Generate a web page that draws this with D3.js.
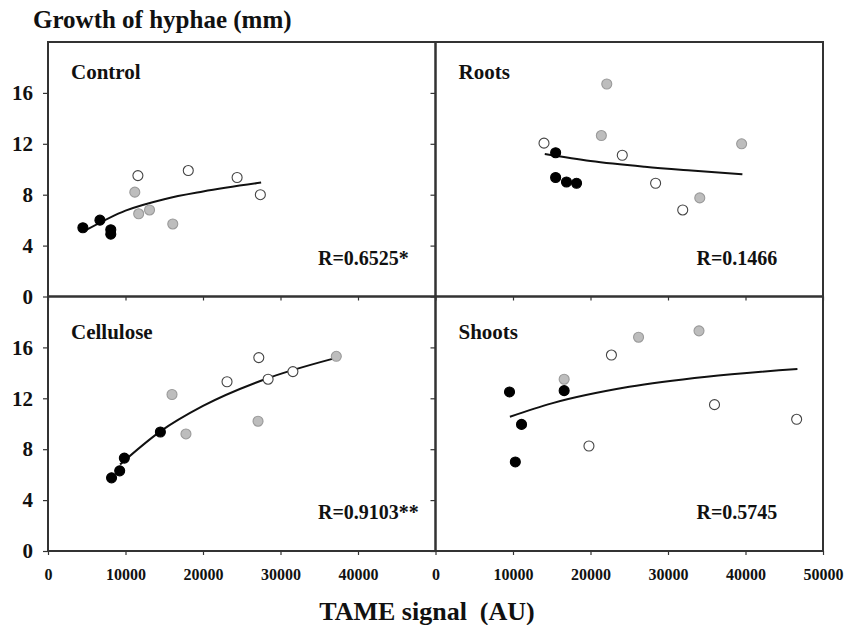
<!DOCTYPE html>
<html>
<head>
<meta charset="utf-8">
<script src="https://cdn.jsdelivr.net/npm/d3@7"></script>
<style>
  body { margin: 0; background: #fff; }
  svg text { font-family: "Liberation Serif", "Times New Roman", serif; font-weight: bold; fill: #111; }
  .axis path.domain { display: none; }
  .axis line { stroke: #333; stroke-width: 1.2; }
</style>
</head>
<body>
<svg id="chart" width="845" height="625"></svg>
<script>
// panel names and correlation labels
const panelNames = ['Control', 'Roots', 'Cellulose', 'Shoots'];
const rLabels = ['R=0.6525*', 'R=0.1466', 'R=0.9103**', 'R=0.5745'];

// tick values
const yTicks = [0, 4, 8, 12, 16];
const xTicksLeft = [0, 10000, 20000, 30000, 40000];
const xTicksRight = [0, 10000, 20000, 30000, 40000, 50000];

// points: [TAME signal, growth, group]  k = black, g = grey, w = open
const controlPts = [
  [4500, 5.4, 'k'], [6700, 6.0, 'k'], [8100, 5.25, 'k'], [8100, 4.9, 'k'],
  [11200, 8.2, 'g'], [11700, 6.5, 'g'], [13100, 6.8, 'g'], [16100, 5.7, 'g'],
  [11600, 9.5, 'w'], [18100, 9.9, 'w'], [24400, 9.35, 'w'], [27400, 8.0, 'w']
];
const rootsPts = [
  [15500, 11.3, 'k'], [15500, 9.35, 'k'], [16900, 9.0, 'k'], [18200, 8.9, 'k'],
  [22100, 16.7, 'g'], [21400, 12.65, 'g'], [34100, 7.75, 'g'], [39500, 12.0, 'g'],
  [14000, 12.05, 'w'], [24100, 11.1, 'w'], [28400, 8.9, 'w'], [31900, 6.8, 'w']
];
const cellulosePts = [
  [8200, 5.75, 'k'], [9250, 6.3, 'k'], [9850, 7.3, 'k'], [14500, 9.35, 'k'],
  [16000, 12.3, 'g'], [17800, 9.2, 'g'], [27100, 10.2, 'g'], [37200, 15.3, 'g'],
  [23100, 13.3, 'w'], [27200, 15.2, 'w'], [28400, 13.5, 'w'], [31600, 14.1, 'w']
];
const shootsPts = [
  [9550, 12.5, 'k'], [16600, 12.6, 'k'], [11100, 9.95, 'k'], [10300, 7.0, 'k'],
  [16600, 13.5, 'g'], [26200, 16.8, 'g'], [34000, 17.3, 'g'],
  [22700, 15.4, 'w'], [19800, 8.25, 'w'], [36000, 11.5, 'w'], [46600, 10.35, 'w']
];

// trend curves
const controlFit = [[5000, 5.25], [10000, 6.75], [15000, 7.65], [20000, 8.25], [27500, 8.95]];
const rootsFit = [[14100, 11.2], [20000, 10.65], [27000, 10.2], [33000, 9.9], [39600, 9.6]];
const celluloseFit = [[9300, 6.8], [14500, 9.4], [20000, 11.4], [28000, 13.5], [36700, 15.1]];
const shootsFit = [[9600, 10.55], [15000, 11.6], [25000, 12.9], [35000, 13.7], [46700, 14.3]];

const allPts = [controlPts, rootsPts, cellulosePts, shootsPts];
const allFits = [controlFit, rootsFit, celluloseFit, shootsFit];

const svg = d3.select('#chart');
const plot = {left: 48, top: 42, width: 387.5, height: 254.5};

const fillOf = {k: '#000', g: '#bdbdbd', w: '#fff'};
const strokeOf = {k: '#000', g: '#9a9a9a', w: '#444'};

panelNames.forEach((name, i) => {
  const col = i % 2, row = Math.floor(i / 2);
  const x0 = plot.left + col * plot.width;
  const y0 = plot.top + row * plot.height;

  const x = d3.scaleLinear([0, 50000], [x0, x0 + plot.width]);
  const y = d3.scaleLinear([0, 20], [y0 + plot.height, y0]);

  const g = svg.append('g').attr('class', 'panel');

  // y axis
  const yAxis = d3.axisLeft(y).tickValues(yTicks).tickSize(5).tickSizeOuter(0).tickPadding(10);
  if (col === 1) yAxis.tickFormat('');
  const ya = g.append('g').attr('class', 'axis').attr('transform', `translate(${x0},0)`).call(yAxis);
  ya.selectAll('text').style('font-size', '21px');

  // x axis
  const xAxis = d3.axisBottom(x).tickValues(col === 0 ? xTicksLeft : xTicksRight)
    .tickSize(4).tickSizeOuter(0).tickPadding(14)
    .tickFormat(row === 0 ? '' : d3.format('d'));
  const xa = g.append('g').attr('class', 'axis').attr('transform', `translate(0,${y0 + plot.height})`).call(xAxis);
  xa.selectAll('text').style('font-size', '16px');

  // frame
  g.append('rect')
    .attr('x', x0).attr('y', y0)
    .attr('width', plot.width).attr('height', plot.height)
    .attr('fill', 'none').attr('stroke', '#333').attr('stroke-width', 2);

  // trend line
  const line = d3.line().x(d => x(d[0])).y(d => y(d[1])).curve(d3.curveMonotoneX);
  g.append('path').datum(allFits[i])
    .attr('d', line)
    .attr('fill', 'none').attr('stroke', '#111').attr('stroke-width', 2);

  // points
  g.selectAll('circle').data(allPts[i]).join('circle')
    .attr('cx', d => x(d[0])).attr('cy', d => y(d[1]))
    .attr('r', 5)
    .attr('fill', d => fillOf[d[2]])
    .attr('stroke', d => strokeOf[d[2]])
    .attr('stroke-width', 1.1);

  // panel name
  g.append('text')
    .attr('x', x0 + 23).attr('y', y0 + (row === 0 ? 37 : 42))
    .style('font-size', '21px')
    .text(name);

  // R value
  g.append('text')
    .attr('x', x0 + (col === 0 ? 270 : 261)).attr('y', y0 + plot.height - 32)
    .style('font-size', '20px')
    .text(rLabels[i]);
});

// axis titles
svg.append('text').attr('x', 33).attr('y', 28)
  .style('font-size', '25px')
  .text('Growth of hyphae (mm)');

svg.append('text').attr('x', 427).attr('y', 620)
  .attr('text-anchor', 'middle')
  .style('white-space', 'pre')
  .style('font-size', '26px')
  .text('TAME signal  (AU)');
</script>
</body>
</html>
